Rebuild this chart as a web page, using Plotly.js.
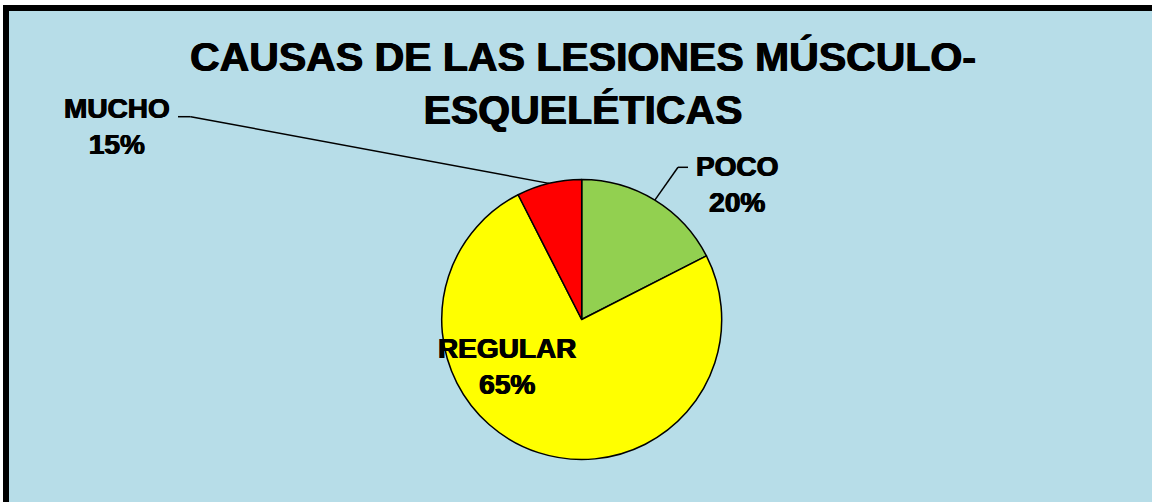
<!DOCTYPE html>
<html>
<head>
<meta charset="utf-8">
<script src="https://cdn.plot.ly/plotly-3.0.1.min.js"></script>
<style>
  html, body { margin: 0; padding: 0; background: #ffffff; }
  #chart { width: 1152px; height: 502px; }
</style>
</head>
<body>
<div id="chart"></div>
<script>
// ---- data ----
var categories   = ['POCO', 'REGULAR', 'MUCHO'];
var sliceValues  = [17.5, 75, 7.5];          // drawn slice sizes
var shownPercent = ['20%', '65%', '15%'];    // percentages printed on the labels
var sliceColors  = ['#92D050', '#FFFF00', '#FF0000'];
var titleText    = 'CAUSAS DE LAS LESIONES MÚSCULO-<br>ESQUELÉTICAS';

// ---- layout geometry ----
var W = 1152, H = 502;
function px(x) { return x / W; }
function py(y) { return 1 - y / H; }

var cx = 581.7, cy = 319.5, R = 140;   // pie centre / radius in pixels
var pieDomain = { x: [px(cx - R), px(cx + R)], y: [py(cy + R), py(cy - R)] };

// label boxes (centre positions, pixels)
var labelPos = {
  'POCO':    { x: 737, y: 184, elbowFrom: 688, elbowTo: 678, elbowY: 167.3 },
  'REGULAR': { x: 507, y: 366 },
  'MUCHO':   { x: 117, y: 126, elbowFrom: 178, elbowTo: 190.7, elbowY: 116.7 }
};

var heavy = '0.6px 0 0 #000, -0.6px 0 0 #000';

var trace = {
  type: 'pie',
  labels: categories,
  values: sliceValues,
  sort: false,
  direction: 'clockwise',
  rotation: 0,
  textinfo: 'none',
  hoverinfo: 'label',
  marker: { colors: sliceColors, line: { color: '#000000', width: 1.5 } },
  domain: pieDomain,
  showlegend: false
};

// slice mid-points on the rim (computed from the data) for leader lines
var total = sliceValues.reduce(function (a, b) { return a + b; }, 0);
var cum = 0, rimPoint = {};
for (var i = 0; i < categories.length; i++) {
  var mid = (cum + sliceValues[i] / 2) / total * 2 * Math.PI;
  rimPoint[categories[i]] = { x: cx + R * Math.sin(mid), y: cy - R * Math.cos(mid) };
  cum += sliceValues[i];
}

var annotations = categories.map(function (c, i) {
  return {
    xref: 'paper', yref: 'paper',
    x: px(labelPos[c].x), y: py(labelPos[c].y),
    xanchor: 'center', yanchor: 'middle',
    text: c + '<br>' + shownPercent[i],
    showarrow: false,
    align: 'center',
    font: { family: 'Liberation Sans, Arial, sans-serif', size: 28, color: '#000000',
            weight: 'bold', shadow: heavy }
  };
});

var shapes = [
  // chart area background
  { type: 'rect', xref: 'paper', yref: 'paper', layer: 'below',
    x0: px(9), x1: 1, y0: 0, y1: py(11),
    fillcolor: '#B7DDE8', line: { width: 0 } },
  // top border
  { type: 'rect', xref: 'paper', yref: 'paper', layer: 'below',
    x0: px(3), x1: 1, y0: py(11), y1: py(5),
    fillcolor: '#000000', line: { width: 0 } },
  // left border
  { type: 'rect', xref: 'paper', yref: 'paper', layer: 'below',
    x0: px(3), x1: px(9), y0: 0, y1: py(5),
    fillcolor: '#000000', line: { width: 0 } }
];

['MUCHO', 'POCO'].forEach(function (c) {
  var lp = labelPos[c], rp = rimPoint[c];
  shapes.push({ type: 'line', xref: 'paper', yref: 'paper', layer: 'above',
    x0: px(lp.elbowFrom), y0: py(lp.elbowY), x1: px(lp.elbowTo), y1: py(lp.elbowY),
    line: { color: '#000000', width: 1.5 } });
  shapes.push({ type: 'line', xref: 'paper', yref: 'paper', layer: 'above',
    x0: px(lp.elbowTo), y0: py(lp.elbowY), x1: px(rp.x), y1: py(rp.y),
    line: { color: '#000000', width: 1.5 } });
});

var layout = {
  width: W, height: H,
  margin: { l: 0, r: 0, t: 0, b: 0, pad: 0 },
  paper_bgcolor: '#ffffff',
  plot_bgcolor: 'rgba(0,0,0,0)',
  showlegend: false,
  title: {
    text: titleText,
    font: { family: 'Liberation Sans, Arial, sans-serif', size: 41, color: '#000000',
            weight: 'bold', shadow: heavy },
    x: px(583), xref: 'paper', xanchor: 'center',
    y: py(71), yref: 'container', yanchor: 'middle'
  },
  annotations: annotations,
  shapes: shapes
};

Plotly.newPlot('chart', [trace], layout, { displayModeBar: false, staticPlot: true });
</script>
</body>
</html>
